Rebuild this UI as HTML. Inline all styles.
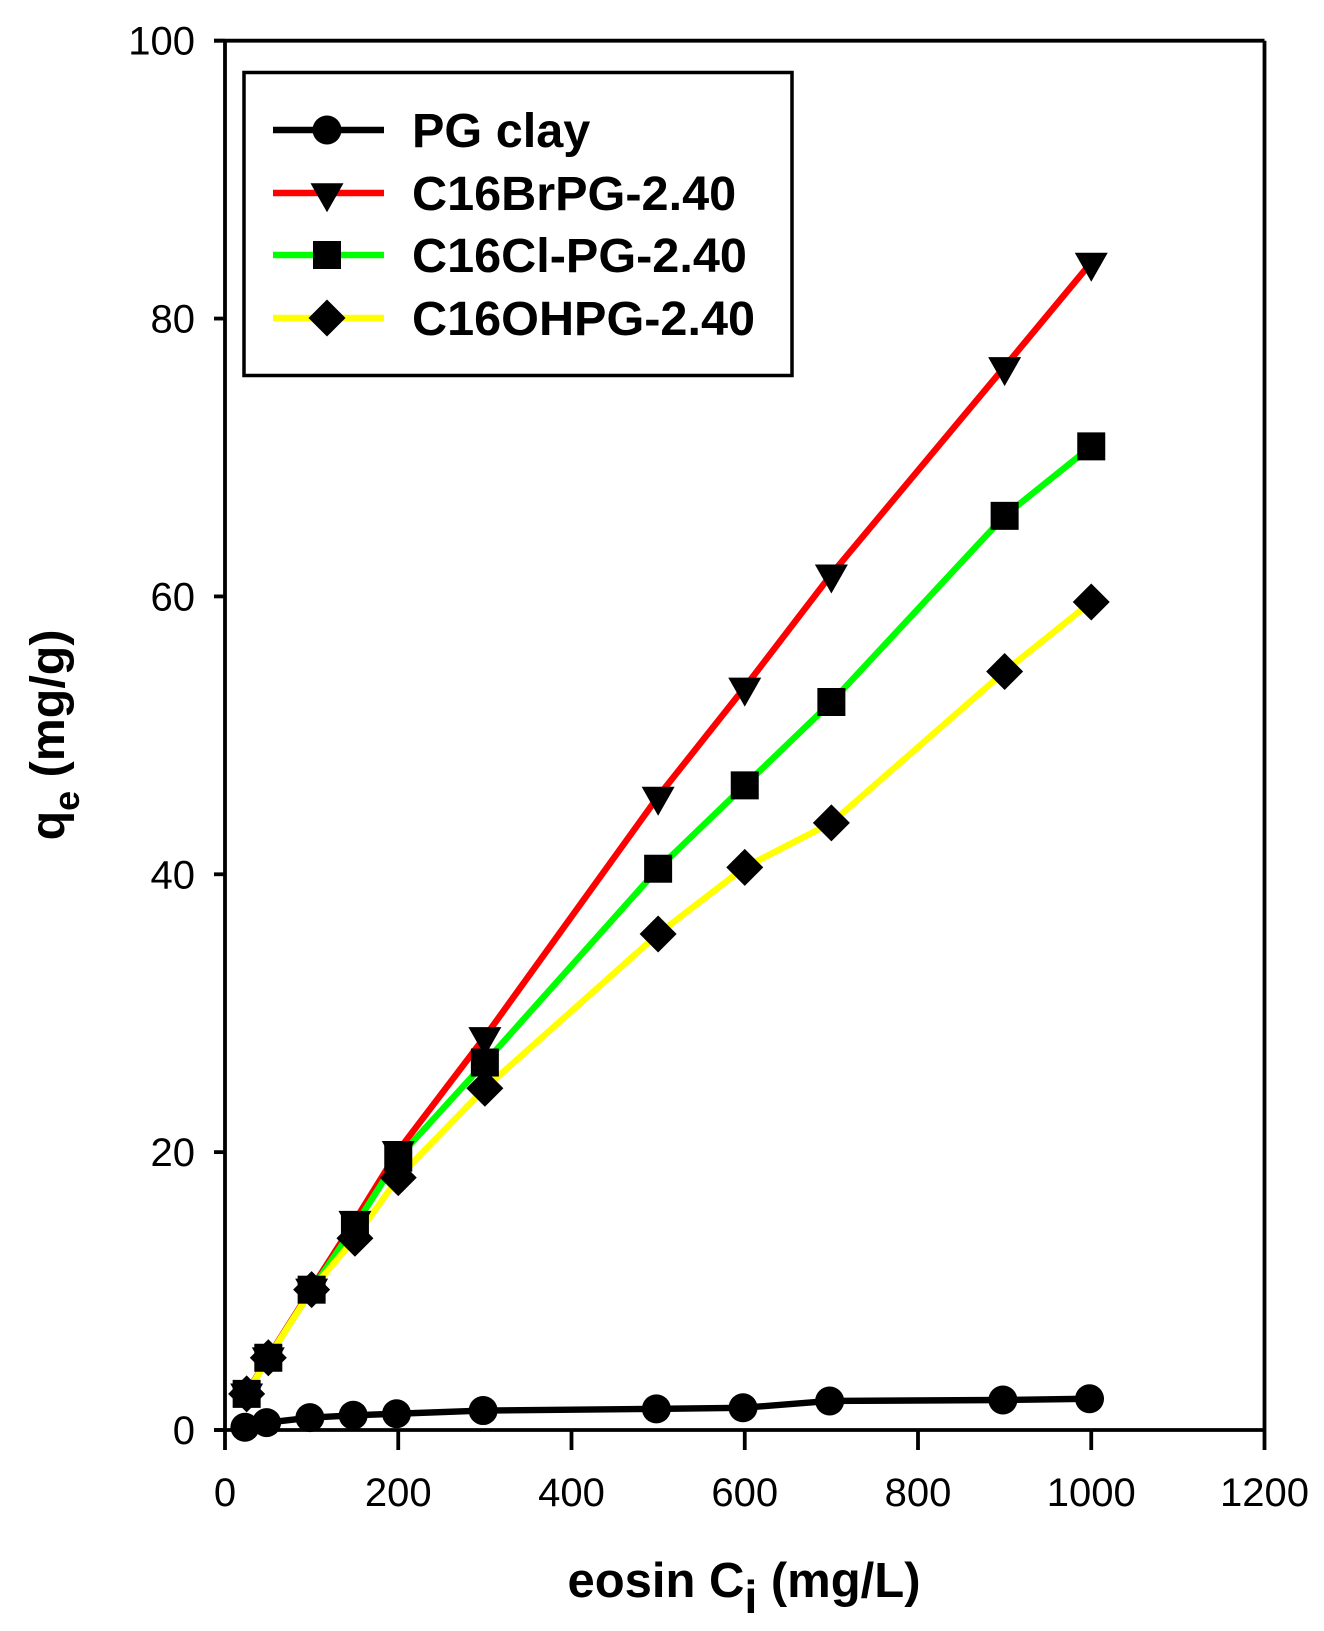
<!DOCTYPE html>
<html lang="en">
<head>
<meta charset="utf-8">
<title>Eosin adsorption chart</title>
<style>
html,body{margin:0;padding:0;background:#fff;}
svg{display:block;font-family:"Liberation Sans",Arial,sans-serif;}
</style>
</head>
<body>
<svg id="chart" xmlns="http://www.w3.org/2000/svg" width="1324" height="1631" viewBox="0 0 1324 1631">
  <rect x="0" y="0" width="1324" height="1631" fill="#fff"/>
  <g id="lines"></g>
  <g id="markers"></g>
  <g id="axes"></g>
  <text x="744" y="1597" text-anchor="middle" font-size="49" font-weight="bold">eosin C<tspan font-size="46" dy="16">i</tspan><tspan dy="-16"> (mg/L)</tspan></text>
  <text transform="translate(64,735) rotate(-90)" text-anchor="middle" font-size="48.4" font-weight="bold">q<tspan font-size="36" dy="15">e</tspan><tspan dy="-15"> (mg/g)</tspan></text>
  <g id="legend">
    <rect x="244" y="72.5" width="548" height="303" fill="#fff" stroke="#000" stroke-width="3.5"/>
  </g>
</svg>
<script>
const xValues = [25, 50, 100, 150, 200, 300, 500, 600, 700, 900, 1000];
const pgClayX = [23, 48, 98, 148, 198, 298, 498, 598, 698, 898, 998];
const pgClay = [0.2, 0.53, 0.89, 1.06, 1.17, 1.4, 1.52, 1.6, 2.09, 2.16, 2.25];
const c16Br = [2.65, 5.25, 10.2, 15.07, 20.1, 28.3, 45.6, 53.46, 61.6, 76.53, 84.04];
const c16Cl = [2.6, 5.2, 10.1, 14.7, 19.6, 26.45, 40.4, 46.4, 52.4, 65.8, 70.8];
const c16OH = [2.6, 5.2, 10.1, 13.8, 18.17, 24.6, 35.7, 40.5, 43.7, 54.6, 59.6];
const xTicks = [0, 200, 400, 600, 800, 1000, 1200];
const yTicks = [0, 20, 40, 60, 80, 100];
const seriesNames = ['PG clay', 'C16BrPG-2.40', 'C16Cl-PG-2.40', 'C16OHPG-2.40'];
const seriesX = [pgClayX, xValues, xValues, xValues];
const seriesValues = [pgClay, c16Br, c16Cl, c16OH];
const seriesColors = ['#000000', '#ff0000', '#00ff00', '#ffff00'];
const seriesKeys = ['pg-clay', 'c16br', 'c16cl', 'c16oh'];
const seriesShapes = ['circle', 'triangle', 'square', 'diamond'];

const NS = 'http://www.w3.org/2000/svg';
const plotLeft = 225, plotRight = 1264.5, plotTop = 40.7, plotBottom = 1430;
const xMax = 1200, yMax = 100;
function sx(v) { return plotLeft + (v / xMax) * (plotRight - plotLeft); }
function sy(v) { return plotBottom - (v / yMax) * (plotBottom - plotTop); }

function make(tag, attrs, parent) {
  const el = document.createElementNS(NS, tag);
  for (const k in attrs) el.setAttribute(k, attrs[k]);
  parent.appendChild(el);
  return el;
}
function markerShape(shape, cx, cy, parent) {
  if (shape === 'circle') {
    return make('circle', { cx: cx, cy: cy, r: 14.5, fill: '#000' }, parent);
  }
  if (shape === 'square') {
    return make('rect', { x: cx - 14, y: cy - 14, width: 28, height: 28, fill: '#000' }, parent);
  }
  if (shape === 'triangle') {
    const t = [[cx - 16.5, cy - 9.7], [cx + 16.5, cy - 9.7], [cx, cy + 19.3]];
    return make('polygon', { points: t.join(' '), fill: '#000' }, parent);
  }
  const d = [[cx, cy - 18.5], [cx + 18.5, cy], [cx, cy + 18.5], [cx - 18.5, cy]];
  return make('polygon', { points: d.join(' '), fill: '#000' }, parent);
}

const linesG = document.getElementById('lines');
const markersG = document.getElementById('markers');
const axesG = document.getElementById('axes');
const legendG = document.getElementById('legend');

seriesValues.forEach(function (vals, s) {
  const xs = seriesX[s];
  const pts = vals.map(function (v, i) { return sx(xs[i]) + ',' + sy(v); }).join(' ');
  const line = make('polyline', { points: pts, fill: 'none', stroke: seriesColors[s], 'stroke-width': 6.4, 'stroke-linejoin': 'miter' }, linesG);
  
  
});
seriesValues.forEach(function (vals, s) {
  const xs = seriesX[s];
  vals.forEach(function (v, i) {
    const m = markerShape(seriesShapes[s], sx(xs[i]), sy(v), markersG);
    
    
  });
});

const frame = make('path', {
  d: 'M' + (plotLeft - 11) + ' ' + plotTop + 'H' + plotRight + 'M' + (plotLeft - 11) + ' ' + plotBottom + 'H' + plotRight +
     'M' + plotLeft + ' ' + plotTop + 'V' + plotBottom + 'M' + plotRight + ' ' + plotTop + 'V' + plotBottom,
  fill: 'none', stroke: '#000', 'stroke-width': 3.8
}, axesG);



xTicks.forEach(function (t) {
  const tick = make('line', { x1: sx(t), x2: sx(t), y1: plotBottom, y2: plotBottom + 20, stroke: '#000', 'stroke-width': 3.8 }, axesG);
  
  
  const label = make('text', { x: sx(t), y: 1506, 'text-anchor': 'middle', 'font-size': 40 }, axesG);
  label.textContent = String(t);
  
  
});
yTicks.forEach(function (t) {
  const tick = make('line', { x1: plotLeft - 11, x2: plotLeft, y1: sy(t), y2: sy(t), stroke: '#000', 'stroke-width': 3.8 }, axesG);
  
  
  const label = make('text', { x: 195, y: sy(t) + 14, 'text-anchor': 'end', 'font-size': 40 }, axesG);
  label.textContent = String(t);
  
  
});

const legendRows = [130, 193, 255, 318];
seriesNames.forEach(function (name, s) {
  const y = legendRows[s];
  const line = make('line', { x1: 273, x2: 384, y1: y, y2: y, stroke: seriesColors[s], 'stroke-width': 6.4 }, legendG);
  
  
  const m = markerShape(seriesShapes[s], 327, y, legendG);
  
  
  const label = make('text', { x: 412, y: y + 17, 'font-size': 48.6, 'font-weight': 'bold' }, legendG);
  label.textContent = name;
  
  
});
</script>
</body>
</html>
